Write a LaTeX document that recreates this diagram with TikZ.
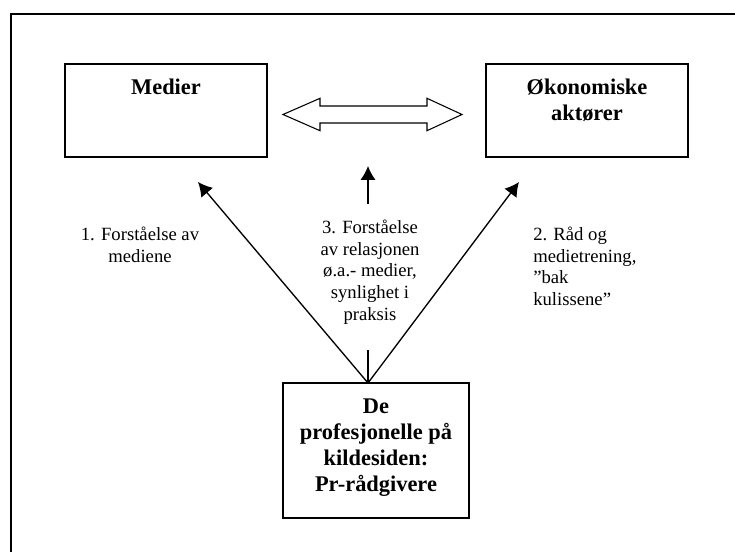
\documentclass[tikz,border=0pt]{standalone}
\usepackage{fontspec}
\setmainfont{Liberation Serif}
\usetikzlibrary{arrows.meta}
\begin{document}
\begin{tikzpicture}[x=0.75pt,y=-0.75pt,
  box/.style={draw, line width=1pt, inner sep=0, outer sep=0},
  title/.style={font=\fontsize{16.8}{19.5}\selectfont\bfseries, align=center, inner sep=0},
  lab/.style={font=\fontsize{14}{16.2}\selectfont, inner sep=0},
  conn/.style={line width=1pt},
  arr/.style={conn, -{Latex[length=10.5pt,width=11.5pt]}},
  block/.style={draw, line width=0.8pt, line join=miter, fill=white}]
\useasboundingbox (0,0) rectangle (735,552);
% frame (only top and left edges visible)
\draw[line width=1.8pt, line join=miter] (11,552) -- (11,14) -- (735,14);

% boxes
\node[box, minimum width=151.5pt, minimum height=69.75pt] (med) at (166,110.5) {};
\node[box, minimum width=151.5pt, minimum height=69.75pt] (oko) at (587,110.5) {};
\node[box, minimum width=139.5pt, minimum height=101.25pt] (bot) at (376,450.5) {};

% box titles
\node[title, anchor=north] (medT) at (166,78) {\rule{0pt}{12pt}Medier};
\node[title, anchor=north] (okoT) at (587,78) {\rule{0pt}{12pt}Økonomiske\\aktører};
\node[title, anchor=north] (botT) at (376,397) {\rule{0pt}{12pt}De\\profesjonelle på\\kildesiden:\\Pr-rådgivere};

% hollow double arrow between Medier and Økonomiske aktører
\draw[block] (283,114.5) -- (320,98.3) -- (320,106) -- (427,106) -- (427,98.3)
  -- (462,114.5) -- (427,130.7) -- (427,123) -- (320,123) -- (320,130.7) -- cycle;

% labels
\node[lab, align=center, anchor=north] (l1) at (140,227) {\rule{0pt}{10pt}1. Forståelse av\\mediene};
\node[lab, align=center, anchor=north] (l3) at (370,220) {\rule{0pt}{10pt}3. Forståelse\\av relasjonen\\ø.a.- medier,\\synlighet i\\praksis};
\node[lab, align=left, anchor=north west] (l2) at (533,227) {\rule{0pt}{10pt}2. Råd og\\medietrening,\\”bak\\kulissene”};

% connectors
\coordinate (src) at ([xshift=-6pt]bot.north);
\coordinate (t1) at (198,182);
\coordinate (t2) at (519,182);
\coordinate (c3a) at (368,350);
\coordinate (c3b) at (368,204);
\coordinate (t3) at (368,166);
\draw[arr] (src) -- (t1);
\draw[arr] (src) -- (t2);
\draw[conn] (src) -- (c3a);
\draw[arr] (c3b) -- (t3);
\end{tikzpicture}
\end{document}
